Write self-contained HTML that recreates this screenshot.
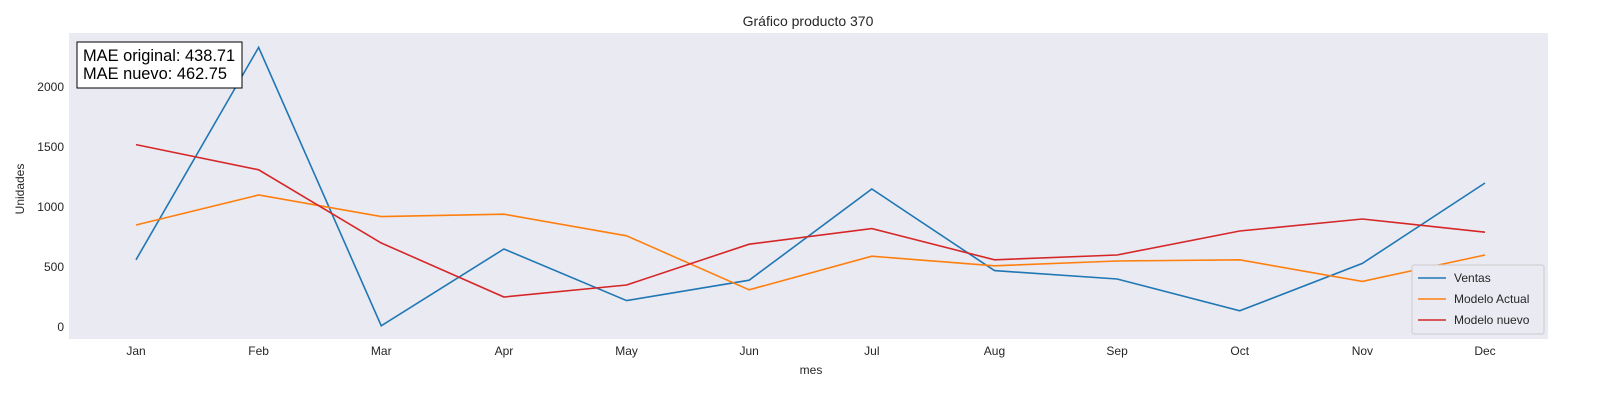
<!DOCTYPE html>
<html><head><meta charset="utf-8"><style>
body{margin:0;background:#fff;font-family:"Liberation Sans",sans-serif;}
svg text{font-family:"Liberation Sans",sans-serif;}
</style></head><body>
<svg id="chart" width="1600" height="400" xmlns="http://www.w3.org/2000/svg">
<rect x="69" y="33" width="1479" height="306" fill="#eaeaf2"/>
<text x="808" y="26" font-size="14" text-anchor="middle" fill="#262626">Gráfico producto 370</text>
<text x="811" y="374" font-size="12" text-anchor="middle" fill="#262626">mes</text>
<text x="24" y="189" font-size="12" text-anchor="middle" fill="#262626" transform="rotate(-90 24 189)">Unidades</text>
<g id="xt"></g><g id="yt"></g><g id="lines"></g>
<g>
<rect x="77" y="42" width="165" height="46" fill="#fff" stroke="#000" stroke-width="1"/>
<text x="83" y="61" font-size="16.4" fill="#000">MAE original: 438.71</text>
<text x="83" y="79" font-size="16.4" fill="#000">MAE nuevo: 462.75</text>
</g>
<g>
<rect x="1412" y="265" width="132" height="69" fill="#eaeaf2" stroke="#ccc" rx="2"/>
<g id="leg"></g>
</g>
</svg>
<script>
const months=["Jan","Feb","Mar","Apr","May","Jun","Jul","Aug","Sep","Oct","Nov","Dec"];
const ventas=[560,2330,10,650,220,390,1150,470,400,135,530,1200];
const modeloActual=[850,1100,920,940,760,310,590,510,550,560,380,600];
const modeloNuevo=[1520,1310,700,250,350,690,820,560,600,800,900,790];
const yTicks=[0,500,1000,1500,2000];
const NS="http://www.w3.org/2000/svg";
const x=i=>136+i*(1485-136)/11;
const y=v=>327-v*0.12;
function mk(t,a,p){const e=document.createElementNS(NS,t);for(const k in a)e.setAttribute(k,a[k]);p.appendChild(e);return e;}
const xt=document.getElementById('xt'),yt=document.getElementById('yt'),lg=document.getElementById('lines'),leg=document.getElementById('leg');
months.forEach((m,i)=>{const t=mk('text',{x:x(i),y:355,'font-size':12,'text-anchor':'middle',fill:'#262626'},xt);t.textContent=m;

});
yTicks.forEach(v=>{const t=mk('text',{x:64,y:y(v)+4,'font-size':12,'text-anchor':'end',fill:'#262626'},yt);t.textContent=v;

});
const series=[["Ventas",ventas,"#1f77b4","line-ventas"],["Modelo Actual",modeloActual,"#ff7f0e","line-modelo-actual"],["Modelo nuevo",modeloNuevo,"#d62728","line-modelo-nuevo"]];
series.forEach(([n,d,c,nm],k)=>{
const p=mk('polyline',{points:d.map((v,i)=>x(i)+','+y(v)).join(' '),fill:'none',stroke:c,'stroke-width':1.6},lg);


const ly=278+k*21;
const l=mk('line',{x1:1418,x2:1446,y1:ly,y2:ly,stroke:c,'stroke-width':1.6},leg);


const t=mk('text',{x:1454,y:ly+4,'font-size':12,fill:'#262626'},leg);t.textContent=n;


});
</script>
</body></html>
